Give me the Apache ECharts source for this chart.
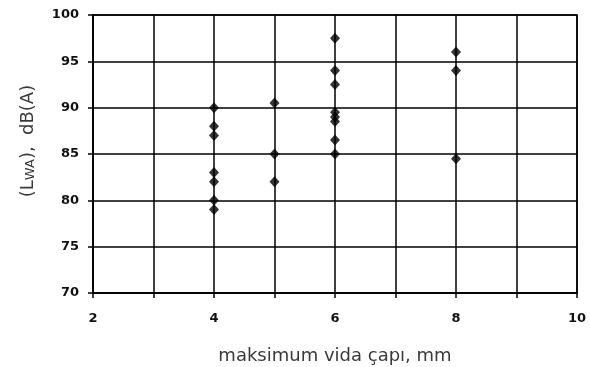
<!DOCTYPE html>
<html><head><meta charset="utf-8">
<script src="https://cdn.jsdelivr.net/npm/echarts@6/dist/echarts.min.js"></script>
<style>html,body{margin:0;padding:0;background:#fff}#c{width:590px;height:367px}</style>
</head><body><div id="c"></div>
<script>
const xValues = [4,4,4,4,4,4,4, 5,5,5, 6,6,6,6,6,6,6,6, 8,8,8];
const yValues = [90,88,87,83,82,80,79, 90.5,85,82, 97.5,94,92.5,89.5,89,88.5,86.5,85, 96,94,84.5];
const xLabels = [2,4,6,8,10];
const yLabels = [70,75,80,85,90,95,100];

const data = xValues.map((x,i)=>[x, yValues[i]]);
const chart = echarts.init(document.getElementById('c'), null, {renderer:'canvas'});
chart.setOption({
  animation:false,
  backgroundColor:'#fff',
  grid:{left:93,right:13,top:15,bottom:74,show:true,borderColor:'#000',borderWidth:1.5,
    containLabel:false,outerBoundsMode:'none'},
  xAxis:{
    type:'value',min:2,max:10,interval:1,
    axisLine:{lineStyle:{color:'#000',width:1.5}},
    axisTick:{show:true,length:5,lineStyle:{color:'#000',width:1.5}},
    splitLine:{show:true,lineStyle:{color:'#000',width:1.5}},
    axisLabel:{margin:19,color:'#111',fontFamily:'DejaVu Sans',fontWeight:'bold',fontSize:13,
      formatter:v=>xLabels.includes(v)?String(v):''},
    name:'maksimum vida çapı, mm',nameLocation:'middle',nameGap:54,
    nameTextStyle:{color:'#3a3a3a',fontFamily:'DejaVu Sans',fontSize:18}
  },
  yAxis:{
    type:'value',min:70,max:100,interval:5,
    axisLine:{lineStyle:{color:'#000',width:1.5}},
    axisTick:{show:true,length:5,lineStyle:{color:'#000',width:1.5}},
    splitLine:{show:true,lineStyle:{color:'#000',width:1.5}},
    axisLabel:{margin:14,color:'#111',fontFamily:'DejaVu Sans',fontWeight:'bold',fontSize:13,
      formatter:v=>yLabels.includes(v)?String(v):''},
    name:'(L{s|WA}),  dB(A)',nameLocation:'middle',nameGap:56,nameRotate:90,
    nameTextStyle:{color:'#3a3a3a',fontFamily:'DejaVu Sans',fontSize:18,padding:[0,0,0,26],
      rich:{s:{fontSize:13,fontFamily:'DejaVu Sans',color:'#3a3a3a',verticalAlign:'bottom'}}}
  },
  series:[{
    type:'scatter',data:data,symbol:'diamond',symbolSize:[10,11],
    itemStyle:{color:'#000'}
  }]
});
</script></body></html>
